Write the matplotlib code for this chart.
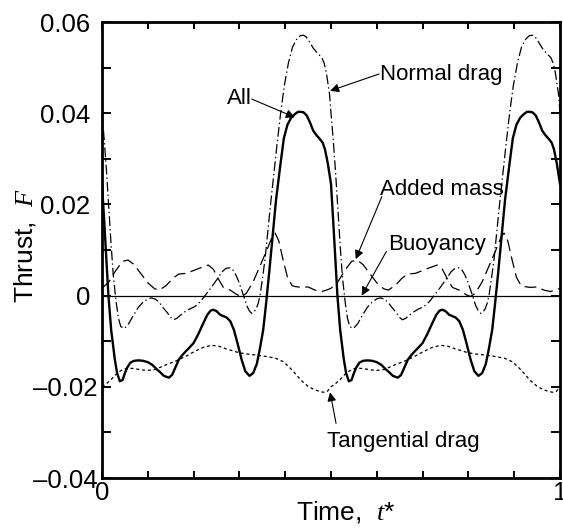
import numpy as np
import matplotlib
matplotlib.use('Agg')
import matplotlib.pyplot as plt
from matplotlib.ticker import MultipleLocator, FixedLocator, FixedFormatter

plt.rcParams['font.family'] = ['Liberation Sans', 'DejaVu Sans']
plt.rcParams['mathtext.fontset'] = 'custom'
plt.rcParams['mathtext.it'] = 'Liberation Serif:italic'
plt.rcParams['mathtext.rm'] = 'Liberation Serif'
plt.rcParams['lines.scale_dashes'] = False

# one flapping cycle (t* from 0 to 0.5); the plot shows two cycles
t_all = [0.000, 0.005, 0.010, 0.014, 0.020, 0.028, 0.033, 0.039, 0.045, 0.050,
         0.055, 0.062, 0.070, 0.080, 0.090, 0.100, 0.110, 0.120, 0.127, 0.135,
         0.146, 0.153, 0.160, 0.168, 0.175, 0.183, 0.190, 0.200, 0.210, 0.220,
         0.230, 0.237, 0.243, 0.250, 0.258, 0.265, 0.272, 0.280, 0.288, 0.296,
         0.305, 0.313, 0.322, 0.330, 0.338, 0.345, 0.352, 0.358, 0.365, 0.372,
         0.380, 0.389, 0.397, 0.405, 0.413, 0.421, 0.428, 0.434, 0.440, 0.447,
         0.454, 0.461, 0.468, 0.476, 0.482, 0.487, 0.493, 0.500]
f_all = [0.0245, 0.0160, 0.0070, 0.0000, -0.0075, -0.0140, -0.0170, -0.0188, -0.0185, -0.0170,
         -0.0158, -0.0147, -0.0143, -0.0142, -0.0143, -0.0146, -0.0152, -0.0162, -0.0168, -0.0176,
         -0.0180, -0.0174, -0.0158, -0.0140, -0.0131, -0.0122, -0.0115, -0.0104, -0.0085, -0.0063,
         -0.0042, -0.0033, -0.0031, -0.0034, -0.0042, -0.0045, -0.0048, -0.0056, -0.0075, -0.0105,
         -0.0141, -0.0166, -0.0176, -0.0170, -0.0150, -0.0115, -0.0075, -0.0020, 0.0050, 0.0125,
         0.0210, 0.0283, 0.0345, 0.0375, 0.0390, 0.0398, 0.0403, 0.0403, 0.0402, 0.0395,
         0.0380, 0.0362, 0.0352, 0.0343, 0.0335, 0.0320, 0.0290, 0.0245]

t_normal = [0.000, 0.005, 0.010, 0.015, 0.020, 0.025, 0.031, 0.036, 0.041, 0.049,
            0.058, 0.067, 0.079, 0.089, 0.100, 0.108, 0.117, 0.125, 0.133, 0.143,
            0.150, 0.156, 0.163, 0.170, 0.180, 0.190, 0.203, 0.215, 0.225, 0.238,
            0.250, 0.262, 0.271, 0.280, 0.286, 0.292, 0.298, 0.304, 0.309, 0.316,
            0.322, 0.327, 0.332, 0.337, 0.341, 0.345, 0.350, 0.356, 0.362, 0.368,
            0.375, 0.382, 0.390, 0.398, 0.407, 0.416, 0.425, 0.433, 0.440, 0.446,
            0.452, 0.461, 0.470, 0.480, 0.485, 0.490, 0.494, 0.497, 0.500]
f_normal = [0.0400, 0.0340, 0.0270, 0.0190, 0.0110, 0.0040, -0.0015, -0.0050, -0.0068, -0.0072,
            -0.0062, -0.0046, -0.0026, -0.0015, -0.0007, -0.0005, -0.0008, -0.0015, -0.0026, -0.0038,
            -0.0048, -0.0053, -0.0050, -0.0044, -0.0036, -0.0030, -0.0024, -0.0013, 0.0000, 0.0017,
            0.0034, 0.0052, 0.0060, 0.0061, 0.0056, 0.0046, 0.0032, 0.0015, 0.0000, -0.0022,
            -0.0034, -0.0039, -0.0036, -0.0028, -0.0017, 0.0000, 0.0035, 0.0080, 0.0140, 0.0200,
            0.0265, 0.0330, 0.0400, 0.0460, 0.0510, 0.0545, 0.0562, 0.0570, 0.0571, 0.0567,
            0.0558, 0.0543, 0.0532, 0.0522, 0.0510, 0.0488, 0.0460, 0.0440, 0.0400]

t_added = [0.000, 0.015, 0.030, 0.045, 0.057, 0.070, 0.085, 0.100, 0.115, 0.125,
           0.140, 0.155, 0.167, 0.185, 0.200, 0.215, 0.232, 0.243, 0.255, 0.265,
           0.280, 0.295, 0.305, 0.315, 0.330, 0.345, 0.360, 0.372, 0.378, 0.386,
           0.395, 0.405, 0.415, 0.421, 0.435, 0.450, 0.465, 0.480, 0.490, 0.500]
f_added = [0.0016, 0.0030, 0.0055, 0.0075, 0.0078, 0.0068, 0.0048, 0.0028, 0.0015, 0.0012,
           0.0022, 0.0038, 0.0047, 0.0049, 0.0055, 0.0061, 0.0067, 0.0058, 0.0035, 0.0018,
           0.0012, 0.0002, -0.0002, 0.0005, 0.0030, 0.0065, 0.0100, 0.0130, 0.0137, 0.0120,
           0.0080, 0.0040, 0.0022, 0.0020, 0.0018, 0.0019, 0.0012, 0.0009, 0.0012, 0.0016]

t_tang = [0.000, 0.010, 0.021, 0.030, 0.039, 0.048, 0.057, 0.070, 0.087, 0.100,
          0.116, 0.130, 0.141, 0.155, 0.167, 0.185, 0.203, 0.220, 0.239, 0.255,
          0.269, 0.285, 0.298, 0.315, 0.334, 0.355, 0.378, 0.396, 0.410, 0.421,
          0.435, 0.450, 0.465, 0.483, 0.492, 0.500]
f_tang = [-0.0200, -0.0193, -0.0183, -0.0173, -0.0166, -0.0161, -0.0159, -0.0160, -0.0163, -0.0164,
          -0.0162, -0.0156, -0.0151, -0.0146, -0.0141, -0.0132, -0.0122, -0.0114, -0.0109, -0.0111,
          -0.0116, -0.0121, -0.0125, -0.0128, -0.0130, -0.0133, -0.0137, -0.0145, -0.0158, -0.0170,
          -0.0186, -0.0199, -0.0207, -0.0212, -0.0210, -0.0200]

t_buoy = [0.0, 1.0]
f_buoy = [0.0, 0.0]

period = 0.5
yticks = [-0.04, -0.02, 0.0, 0.02, 0.04, 0.06]
# positive labels sit a little further from the axis than the negative ones in the original
ytick_labels = ['\u20130.04', '\u20130.02', '0 ', '0.02 ', '0.04 ', '0.06 ']
xticks = [0, 1]
xtick_labels = ['0', '1']


def two_cycles(t, f):
    t = np.asarray(t)
    f = np.asarray(f)
    return np.concatenate([t, t[1:] + period]), np.concatenate([f, f[1:]])


fig = plt.figure(figsize=(5.63, 5.29), dpi=100)
ax = fig.add_axes([102 / 563, 51 / 529, 458 / 563, 456 / 529])

ax.plot(t_buoy, f_buoy, color='black', lw=0.9)
ax.plot(*two_cycles(t_tang, f_tang), color='black', lw=0.9, dashes=(2.2, 2.0))
ax.plot(*two_cycles(t_added, f_added), color='black', lw=0.9, dashes=(8.5, 4))
ax.plot(*two_cycles(t_normal, f_normal), color='black', lw=0.9, dashes=(7, 2.2, 1, 2.2))
ax.plot(*two_cycles(t_all, f_all), color='black', lw=1.7, solid_joinstyle='round')

ax.set_xlim(0, 1)
ax.set_ylim(-0.04, 0.06)
ax.xaxis.set_major_locator(FixedLocator(xticks))
ax.xaxis.set_major_formatter(FixedFormatter(xtick_labels))
ax.xaxis.set_minor_locator(MultipleLocator(0.1))
ax.yaxis.set_major_locator(FixedLocator(yticks))
ax.yaxis.set_major_formatter(FixedFormatter(ytick_labels))
ax.yaxis.set_minor_locator(MultipleLocator(0.01))
ax.tick_params(which='both', direction='in', top=True, right=True, labelsize=18.5, width=1.4)
ax.tick_params(axis='y', which='both', length=6.5)
ax.tick_params(axis='x', which='both', length=4.8, pad=2)
for s in ax.spines.values():
    s.set_linewidth(2.0)

ax.set_xlabel('Time,  $t$*', fontsize=19)
ax.xaxis.set_label_coords(0.533, -0.045)
ax.set_ylabel('Thrust,  $F$', fontsize=19)
ax.yaxis.set_label_coords(-0.14, 0.51)

arrow = dict(arrowstyle='-|>', color='black', lw=0.8, mutation_scale=13, shrinkA=0, shrinkB=0)
ax.text(0.272, 0.0420, 'All', fontsize=16, ha='left', va='baseline')
ax.annotate('', xy=(0.421, 0.0391), xytext=(0.327, 0.0431), arrowprops=arrow)
ax.text(0.607, 0.0473, 'Normal drag', fontsize=16, ha='left', va='baseline')
ax.annotate('', xy=(0.498, 0.0449), xytext=(0.605, 0.0486), arrowprops=arrow)
ax.text(0.607, 0.0221, 'Added mass', fontsize=16, ha='left', va='baseline')
ax.annotate('', xy=(0.554, 0.0080), xytext=(0.611, 0.0217), arrowprops=arrow)
ax.text(0.625, 0.0100, 'Buoyancy', fontsize=16, ha='left', va='baseline')
ax.annotate('', xy=(0.567, 0.0), xytext=(0.621, 0.0097), arrowprops=arrow)
ax.text(0.658, -0.0332, 'Tangential drag', fontsize=16, ha='center', va='baseline')
ax.annotate('', xy=(0.498, -0.0212), xytext=(0.511, -0.0280), arrowprops=arrow)

fig.savefig('out.png', dpi=100)
